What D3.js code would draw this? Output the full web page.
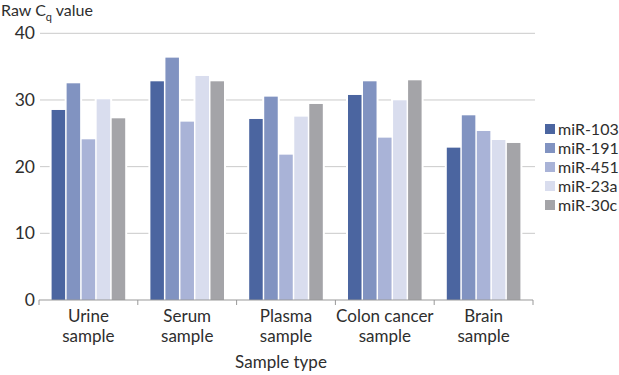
<!DOCTYPE html>
<html><head><meta charset="utf-8">
<script src="https://cdn.jsdelivr.net/npm/d3@7"></script>
<style>body{margin:0;background:#fff;} svg{display:block;font-family:Lato,"Open Sans",sans-serif;}</style>
</head><body>
<svg id="c" width="619" height="375"></svg>
<script>
const categories = ["Urine sample", "Serum sample", "Plasma sample", "Colon cancer sample", "Brain sample"];
const categoryLines = [["Urine","sample"],["Serum","sample"],["Plasma","sample"],["Colon cancer","sample"],["Brain","sample"]];
const seriesNames = ["miR-103", "miR-191", "miR-451", "miR-23a", "miR-30c"];
const miR103 = [28.5, 32.8, 27.15, 30.75, 22.85];
const miR191 = [32.5, 36.35, 30.5, 32.8, 27.7];
const miR451 = [24.1, 26.75, 21.8, 24.35, 25.35];
const miR23a = [30.1, 33.6, 27.5, 29.95, 24.0];
const miR30c = [27.25, 32.8, 29.4, 32.95, 23.55];
const seriesValues = [miR103, miR191, miR451, miR23a, miR30c];
const yTicks = [0, 10, 20, 30, 40];
const colors = ["#4b65a0", "#8193c1", "#a9b3d7", "#d9ddee", "#a4a4a8"];

const svg = d3.select("#c");
const mLeft = 39, mRight = 533, mTop = 33.3, mBottom = 300;
const x0 = d3.scaleBand().domain(categories).range([mLeft, mRight]).padding(0);
const bw = x0.bandwidth();
const pad = 12.6;
const x1 = d3.scaleBand().domain(seriesNames).range([pad, bw - pad]).paddingInner(0.1);
const y = d3.scaleLinear().domain([0, 40]).range([mBottom, mTop]);
const textColor = "#2e2e2e";

// gridlines
svg.append("g").selectAll("line").data(yTicks.filter(t => t > 0)).join("line")
  .attr("x1", 40).attr("x2", 535)
  .attr("y1", d => y(d)).attr("y2", d => y(d))
  .attr("stroke", "#cacaca").attr("stroke-width", 1);

// y tick labels
svg.append("g").selectAll("text").data(yTicks).join("text")
  .attr("x", 35).attr("y", d => y(d)).attr("dy", "0.35em")
  .attr("text-anchor", "end").attr("font-size", 17.5).attr("fill", textColor)
  .text(d => d);

// bars
const groups = svg.append("g").selectAll("g").data(categories).join("g")
  .attr("transform", d => `translate(${x0(d)},0)`);
const barData = (d, i) => seriesNames.map((s, j) => ({s, v: seriesValues[j][i], j}));
groups.selectAll("rect.bg").data(barData).join("rect").attr("class", "bg")
  .attr("x", d => x1(d.s) - 2).attr("width", x1.bandwidth() + 4)
  .attr("y", d => y(d.v) - 2).attr("height", d => y(0) - y(d.v) + 2)
  .attr("fill", "#fff");
groups.selectAll("rect.bar").data(barData).join("rect").attr("class", "bar")
  .attr("x", d => x1(d.s)).attr("width", x1.bandwidth())
  .attr("y", d => y(d.v)).attr("height", d => y(0) - y(d.v))
  .attr("fill", d => colors[d.j]);

// x axis
const xAxis = svg.append("g").attr("transform", `translate(0,${mBottom})`);
xAxis.append("line").attr("x1", mLeft).attr("x2", mRight).attr("stroke", "#999").attr("stroke-width", 1);
const edges = categories.map(c => x0(c)).concat([mRight]);
xAxis.selectAll("line.t").data(edges).join("line").attr("class", "t")
  .attr("x1", d => d).attr("x2", d => d).attr("y1", 0).attr("y2", 5)
  .attr("stroke", "#999");
const lbl = xAxis.selectAll("text").data(categories).join("text")
  .attr("text-anchor", "middle").attr("font-size", 17).attr("fill", textColor)
  .attr("transform", d => `translate(${x0(d) + bw / 2},0)`);
lbl.selectAll("tspan").data((d, i) => categoryLines[i]).join("tspan")
  .attr("x", 0).attr("y", (d, k) => 22 + k * 20).text(d => d);

// axis titles
svg.append("text").attr("x", 281).attr("y", 368)
  .attr("text-anchor", "middle").attr("font-size", 17).attr("fill", textColor)
  .text("Sample type");
const yt = svg.append("text").attr("x", 1).attr("y", 16).attr("font-size", 16).attr("fill", textColor);
yt.append("tspan").text("Raw C");
yt.append("tspan").attr("font-size", 11).attr("dy", 5).text("q");
yt.append("tspan").attr("dy", -5).text(" value");

// legend
const lg = svg.append("g").selectAll("g").data(seriesNames).join("g")
  .attr("transform", (d, i) => `translate(545,${129 + i * 19})`);
lg.append("rect").attr("x", 0).attr("y", -5).attr("width", 10).attr("height", 10)
  .attr("fill", (d, i) => colors[i]);
lg.append("text").attr("x", 13).attr("dy", "0.35em").attr("font-size", 16).attr("fill", textColor).text(d => d);
</script>
</body></html>
